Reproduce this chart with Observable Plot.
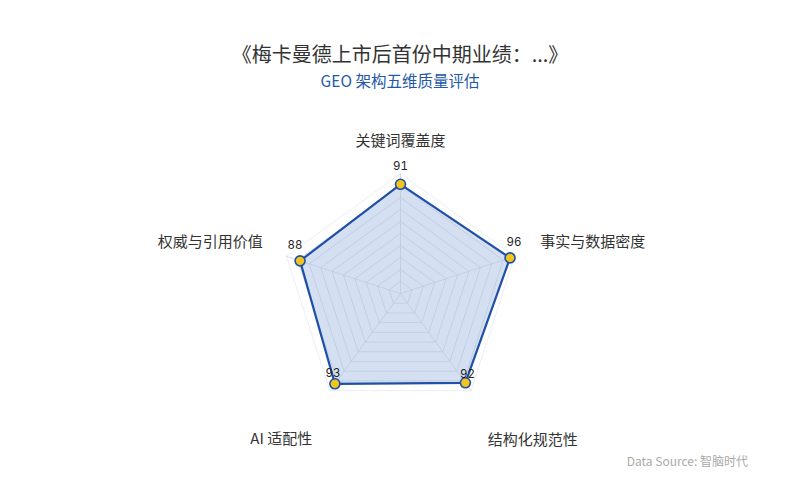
<!DOCTYPE html>
<html>
<head>
<meta charset="utf-8">
<script src="https://cdn.jsdelivr.net/npm/d3@7"></script>
<script src="https://cdn.jsdelivr.net/npm/@observablehq/plot@0.6"></script>
<style>
  html, body { margin: 0; padding: 0; background: #fff; }
  body { width: 800px; height: 500px; position: relative; overflow: hidden;
         font-family: "Noto Sans CJK SC", "Noto Sans", sans-serif; }
  #title { position: absolute; top: 40px; left: 0; width: 800px; text-align: center;
           font-size: 20px; color: #333; line-height: 28px; }
  #subtitle { position: absolute; top: 70px; left: 0; width: 800px; text-align: center;
              font-size: 15.5px; color: #2458a6; line-height: 20px; }
  #chart { position: absolute; top: 100px; left: 0; }
  #caption { position: absolute; top: 452px; right: 52px; font-size: 12px; color: #aaa; line-height: 18px; }
</style>
</head>
<body>
<div id="title">《梅卡曼德上市后首份中期业绩：...》</div>
<div id="subtitle">GEO 架构五维质量评估</div>
<div id="chart"></div>
<div id="caption">Data Source: 智脑时代</div>
<script>
const dimensions = ["关键词覆盖度", "事实与数据密度", "结构化规范性", "AI 适配性", "权威与引用价值"];
const scores = [91, 96, 92, 93, 88];
const maxValue = 100;
const gridLevels = [10, 20, 30, 40, 50, 60, 70, 80, 90, 100];

const W = 800, H = 380, pxPerUnit = 1.2, cyTop = 193;
const n = dimensions.length;
const ang = i => i * 2 * Math.PI / n;
const px = (i, r) => r * Math.sin(ang(i));
const py = (i, r) => r * Math.cos(ang(i));

// grid rings
const rings = [];
gridLevels.forEach(lv => {
  for (let i = 0; i <= n; i++) rings.push({level: lv, x: px(i % n, lv), y: py(i % n, lv)});
});
// spokes
const spokes = dimensions.map((d, i) => ({x1: 0, y1: 0, x2: px(i, maxValue), y2: py(i, maxValue)}));
// data polygon
const poly = dimensions.map((d, i) => ({name: d, value: scores[i], x: px(i, scores[i]), y: py(i, scores[i])}));

// axis label layout (anchor & pixel offset per side)
const labelRadius = 118;
const labelCfg = [
  {anchor: "middle", dx: 0, dy: -11},
  {anchor: "start", dx: 5, dy: -8},
  {anchor: "middle", dx: 49, dy: 32},
  {anchor: "middle", dx: -36, dy: 31},
  {anchor: "end", dx: -3, dy: -8}
];
const labels = dimensions.map((d, i) => ({name: d, x: px(i, labelRadius), y: py(i, labelRadius), ...labelCfg[i]}));
const valueOffsets = [[0, -18], [4, -16], [2, -9], [-2, -10], [-5, -16]];

const chart = Plot.plot({
  width: W, height: H,
  margin: 0,
  x: {domain: [-W / 2 / pxPerUnit, W / 2 / pxPerUnit], axis: null},
  y: {domain: [-(H - cyTop) / pxPerUnit, cyTop / pxPerUnit], axis: null},
  style: {fontFamily: "'Noto Sans CJK SC', 'Noto Sans', sans-serif", background: "transparent"},
  marks: [
    Plot.line(rings, {x: "x", y: "y", z: "level", stroke: d => d.level === 100 ? "#dfe5ef" : "#c3cad6", strokeWidth: 0.8, strokeOpacity: 0.8}),
    Plot.link(spokes, {x1: "x1", y1: "y1", x2: "x2", y2: "y2", stroke: "#c3cad6", strokeWidth: 0.8, strokeOpacity: 0.8}),
    Plot.line(poly, {x: "x", y: "y", fill: "#a9bfe3", fillOpacity: 0.5, stroke: "#1f4fa6", strokeWidth: 2.2, curve: "linear-closed"}),
    Plot.dot(poly, {x: "x", y: "y", r: 5, fill: "#f2c51c", stroke: "#1f4fa6", strokeWidth: 1.6}),
    ...poly.map((p, i) => Plot.text([p], {x: "x", y: "y", text: "value", dx: valueOffsets[i][0], dy: valueOffsets[i][1], fontSize: 11.5, fill: "#222", fontFamily: "Inter, 'Noto Sans', sans-serif"})),
    ...labels.map(l => Plot.text([l], {x: "x", y: "y", text: "name", textAnchor: l.anchor, dx: l.dx, dy: l.dy, fontSize: 15, fill: "#333"}))
  ]
});
document.getElementById("chart").appendChild(chart);
</script>
</body>
</html>
